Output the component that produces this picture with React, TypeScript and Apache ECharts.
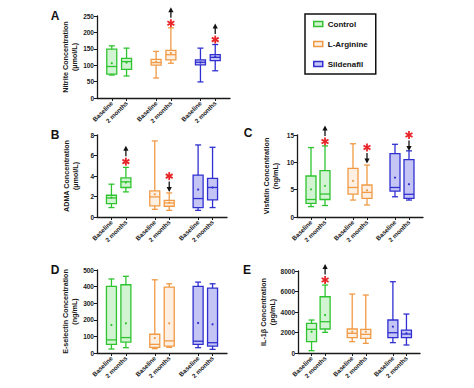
import React, { useEffect, useRef } from "react";
import * as echarts from "echarts";

// Category slots (blank slots separate the three treatment groups)
const categories = ["", "Baseline", "2 months", "", "Baseline", "2 months", "", "Baseline", "2 months", ""];
const groupSlots = { Control: [1, 2], "L-Arginine": [4, 5], Sildenafil: [7, 8] };
const groupNames = ["Control", "L-Arginine", "Sildenafil"];

// Each box: [min, Q1, median, Q3, max, mean] for Baseline and 2 months
const nitriteControl = [[70, 73, 96, 149, 159, 106], [67, 87, 111, 121, 152, 108]];
const nitriteArginine = [[61, 100, 108, 118, 142, 111], [106, 116, 132, 145, 214, 137]];
const nitriteSildenafil = [[49, 101, 109, 116, 152, 108], [83, 114, 124, 132, 163, 127]];

const admaControl = [[0.92, 1.31, 1.86, 2.12, 3.2, 1.9], [2.45, 2.88, 3.43, 3.82, 4.84, 3.37]];
const admaArginine = [[0.75, 1.08, 1.96, 2.55, 7.42, 2.22], [0.65, 1.05, 1.37, 1.63, 2.35, 1.4]];
const admaSildenafil = [[0.65, 0.92, 1.8, 4.08, 7.03, 2.68], [0.92, 1.67, 2.88, 3.76, 6.8, 2.88]];

const visfatinControl = [[1.9, 2.5, 3.2, 7.5, 12.7, 5.06], [2.1, 3.2, 4.2, 8.5, 13.0, 5.7]];
const visfatinArginine = [[3.1, 4.2, 5.4, 8.9, 13.4, 6.6], [2.2, 3.4, 4.5, 5.85, 9.5, 4.9]];
const visfatinSildenafil = [[3.7, 4.75, 5.4, 11.6, 13.3, 7.2], [3.1, 3.4, 4.15, 10.5, 12.1, 6.0]];

const eselectinControl = [[24, 52, 79, 401, 446, 169], [32, 65, 93, 411, 462, 179]];
const eselectinArginine = [[26, 34, 52, 113, 441, 90], [34, 42, 73, 397, 417, 179]];
const eselectinSildenafil = [[32, 52, 71, 401, 427, 181], [22, 42, 62, 391, 417, 173]];

const il1bControl = [[228, 1105, 2310, 2890, 3218, 2080], [2015, 2340, 3055, 5490, 6630, 3700]];
const il1bArginine = [[1105, 1500, 1920, 2340, 5750, 2080], [940, 1430, 1820, 2310, 5655, 2080]];
const il1bSildenafil = [[1010, 1500, 1980, 3218, 6955, 2570], [780, 1500, 1850, 2240, 3800, 1920]];

// Significance marks: [slot, asterisk value, direction (1 = up, -1 = down)]
const nitriteSig = [[5, 228, 1], [8, 178, 1]];
const admaSig = [[2, 5.4, 1], [5, 3.99, -1]];
const visfatinSig = [[2, 13.8, 1], [5, 12.7, -1], [8, 15.0, -1]];
const eselectinSig: number[][] = [];
const il1bSig = [[2, 7120, 1]];

// Axis settings
const axisMax = [250, 8, 15, 500, 8000];
const axisInterval = [50, 2, 5, 100, 2000];
const axisTitles = [
  "Nitrite Concentration\n(µmol/L)",
  "ADMA Concentration\n(µmol/L)",
  "Visfatin Concentration\n(ng/mL)",
  "E-selectin Concentration\n(ng/mL)",
  "IL-1β Concentration\n(pg/mL)",
];
const panelLetters = ["A", "B", "C", "D", "E"];

const panels = [
  { boxes: [nitriteControl, nitriteArginine, nitriteSildenafil], sig: nitriteSig },
  { boxes: [admaControl, admaArginine, admaSildenafil], sig: admaSig },
  { boxes: [visfatinControl, visfatinArginine, visfatinSildenafil], sig: visfatinSig },
  { boxes: [eselectinControl, eselectinArginine, eselectinSildenafil], sig: eselectinSig },
  { boxes: [il1bControl, il1bArginine, il1bSildenafil], sig: il1bSig },
];

const FONT = "'Liberation Sans', Arial, Helvetica, sans-serif";
const strokeColors = ["#2fc42f", "#f09a45", "#3030d0"];
const fillColors = ["rgba(80,210,80,0.25)", "rgba(245,170,100,0.18)", "rgba(70,70,225,0.32)"];

const grids = [
  { left: 97, top: 16, width: 133, height: 82 },
  { left: 97, top: 135, width: 130, height: 82 },
  { left: 297, top: 135, width: 126, height: 82 },
  { left: 97, top: 270, width: 130, height: 83 },
  { left: 298, top: 271, width: 122, height: 82 },
];
const letterPos = [
  [55, 16],
  [55, 135],
  [248, 133],
  [55, 270],
  [247, 270],
];

function buildOption() {
  const xAxis: any[] = [];
  const yAxis: any[] = [];
  const series: any[] = [];

  grids.forEach((g, i) => {
    xAxis.push({
      type: "category",
      gridIndex: i,
      data: categories,
      boundaryGap: false,
      axisLine: { lineStyle: { color: "#1a1a1a", width: 1.3 } },
      axisTick: {
        length: 3,
        interval: (idx: number, val: string) => val !== "",
        lineStyle: { color: "#1a1a1a", width: 1 },
      },
      axisLabel: {
        interval: 0,
        rotate: 45,
        fontSize: 6.3,
        fontWeight: "bold",
        fontFamily: FONT,
        color: "#1a1a1a",
        margin: 4,
      },
      splitLine: { show: false },
    });
    yAxis.push({
      type: "value",
      gridIndex: i,
      min: 0,
      max: axisMax[i],
      interval: axisInterval[i],
      name: axisTitles[i],
      nameLocation: "middle",
      nameRotate: 90,
      nameGap: 17,
      nameTextStyle: {
        fontSize: 7.2,
        fontWeight: "bold",
        fontFamily: FONT,
        color: "#1a1a1a",
        lineHeight: 9,
      },
      axisLine: { show: true, lineStyle: { color: "#1a1a1a", width: 1.3 } },
      axisTick: { show: true, length: 3, lineStyle: { color: "#1a1a1a", width: 1 } },
      axisLabel: {
        fontSize: 6.5,
        fontWeight: "bold",
        fontFamily: FONT,
        color: "#1a1a1a",
        margin: 3,
        formatter: (v: number) => String(v),
      },
      splitLine: { show: false },
    });

    const p = panels[i];
    p.boxes.forEach((groupBoxes, gi) => {
      const name = groupNames[gi];
      const slots = (groupSlots as any)[name];
      const data = groupBoxes.map((b, k) => [slots[k], ...b]);
      const stroke = strokeColors[gi];
      const fill = fillColors[gi];
      series.push({
        type: "custom",
        name,
        xAxisIndex: i,
        yAxisIndex: i,
        itemStyle: { color: stroke },
        encode: { x: 0, y: [1, 2, 3, 4, 5] },
        data,
        renderItem: (params: any, api: any) => {
          const x = api.value(0);
          const c = (v: number) => api.coord([x, v]);
          const pMin = c(api.value(1));
          const pQ1 = c(api.value(2));
          const pMed = c(api.value(3));
          const pQ3 = c(api.value(4));
          const pMax = c(api.value(5));
          const pMean = c(api.value(6));
          const cx = pMin[0];
          const hw = 5;
          const cw = 3;
          const ls = { stroke, lineWidth: 1.3, fill: null };
          return {
            type: "group",
            children: [
              { type: "line", shape: { x1: cx, y1: pMax[1], x2: cx, y2: pQ3[1] }, style: ls },
              { type: "line", shape: { x1: cx, y1: pQ1[1], x2: cx, y2: pMin[1] }, style: ls },
              { type: "line", shape: { x1: cx - cw, y1: pMax[1], x2: cx + cw, y2: pMax[1] }, style: ls },
              { type: "line", shape: { x1: cx - cw, y1: pMin[1], x2: cx + cw, y2: pMin[1] }, style: ls },
              {
                type: "rect",
                shape: { x: cx - hw, y: pQ3[1], width: hw * 2, height: pQ1[1] - pQ3[1] },
                style: { stroke, lineWidth: 1.3, fill },
              },
              { type: "line", shape: { x1: cx - hw, y1: pMed[1], x2: cx + hw, y2: pMed[1] }, style: ls },
              { type: "circle", shape: { cx, cy: pMean[1], r: 1.1 }, style: { fill: stroke } },
            ],
          };
        },
      });
    });

    if (p.sig.length) {
      series.push({
        type: "custom",
        name: "significance",
        xAxisIndex: i,
        yAxisIndex: i,
        clip: false,
        encode: { x: 0, y: 1 },
        data: p.sig,
        renderItem: (params: any, api: any) => {
          const pt = api.coord([api.value(0), api.value(1)]);
          const dir = api.value(2);
          const [x, y] = pt;
          const r = 4;
          const red = { stroke: "#e8262a", lineWidth: 1.8 };
          const arrowStyle = { stroke: "#111", lineWidth: 1.3 };
          const s = -dir; // screen direction (up = negative y)
          const children: any[] = [];
          const angles = [90, 30, 150];
          angles.forEach((a) => {
            const rad = (a * Math.PI) / 180;
            children.push({
              type: "line",
              shape: {
                x1: x - r * Math.cos(rad),
                y1: y - r * Math.sin(rad),
                x2: x + r * Math.cos(rad),
                y2: y + r * Math.sin(rad),
              },
              style: red,
            });
          });
          children.push({
            type: "line",
            shape: { x1: x, y1: y + s * 5.5, x2: x, y2: y + s * 11.5 },
            style: arrowStyle,
          });
          children.push({
            type: "polygon",
            shape: {
              points: [
                [x - 2.6, y + s * 11],
                [x + 2.6, y + s * 11],
                [x, y + s * 16],
              ],
            },
            style: { fill: "#111" },
          });
          return { type: "group", children };
        },
      });
    }
  });

  const graphic = panelLetters.map((L, i) => ({
    type: "text",
    x: letterPos[i][0],
    y: letterPos[i][1],
    style: {
      text: L,
      fontSize: 12,
      fontWeight: "bold",
      fontFamily: FONT,
      fill: "#111",
      textAlign: "center",
      textVerticalAlign: "middle",
    },
  }));

  return {
    animation: false,
    backgroundColor: "#fff",
    grid: grids.map((g) => ({ ...g, containLabel: false })),
    xAxis,
    yAxis,
    series,
    graphic,
    legend: {
      left: 305,
      top: 14,
      orient: "vertical",
      padding: [6, 8, 6, 8],
      itemGap: 12,
      itemWidth: 9,
      itemHeight: 5,
      icon: "rect",
      borderColor: "#111",
      borderWidth: 1.5,
      selectedMode: false,
      textStyle: { fontSize: 8, fontWeight: "bold", fontFamily: FONT, color: "#111" },
      data: groupNames.map((n, gi) => ({
        name: n,
        itemStyle: { color: fillColors[gi], borderColor: strokeColors[gi], borderWidth: 1.5 },
      })),
    },
  };
}

export default function App() {
  const ref = useRef<HTMLDivElement>(null);
  useEffect(() => {
    if (!ref.current) return;
    const chart = echarts.init(ref.current, undefined, { renderer: "svg" });
    chart.setOption(buildOption() as any);
    return () => chart.dispose();
  }, []);
  return (
    <div
      ref={ref}
      style={{ position: "absolute", left: 0, top: 0, width: 474, height: 388, background: "#fff" }}
    />
  );
}
